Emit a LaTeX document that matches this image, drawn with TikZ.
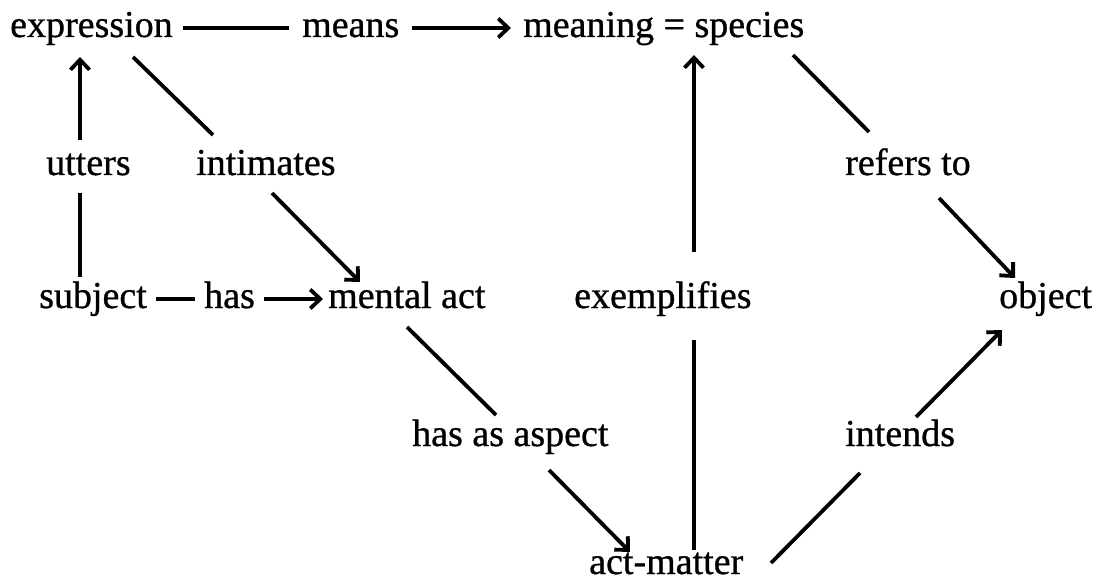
\documentclass[tikz,border=0pt]{standalone}
\usepackage{fontspec}
\setmainfont{Liberation Serif}[FakeBold=0.8]
\usetikzlibrary{arrows.meta,calc}
\begin{document}
\begin{tikzpicture}[x=1pt,y=-1pt,
  lbl/.style={anchor=base west,inner sep=0pt,font=\fontsize{38}{45}\selectfont},
  conn/.style={line width=3.8pt},
  arr/.style={conn,-{Straight Barb[length=10pt,width=19pt,line width=3.8pt]}}]
\useasboundingbox (0,0) rectangle (1098,583);
% row 1
\node[lbl] (expression) at (10,37) {expression};
\node[lbl] (means) at (302,37) {means};
\node[lbl] (meaning) at (523,37) {meaning = species};
% row 2
\node[lbl] (utters) at (46,175) {utters};
\node[lbl] (intimates) at (196,175) {intimates};
\node[lbl] (refers) at (845,175) {refers to};
% row 3
\node[lbl] (subject) at (39,308) {subject};
\node[lbl] (has) at (204,308) {has};
\node[lbl] (mental) at (328,308) {mental act};
\node[lbl] (exemplifies) at (574,308) {exemplifies};
\node[lbl] (object) at (999,308) {object};
% row 4
\node[lbl] (aspect) at (412,446) {has as aspect};
\node[lbl] (intends) at (845,446) {intends};
% row 5
\node[lbl] (actmatter) at (589,574) {act-matter};
% connectors
\draw[conn] ($(expression.base east)+(10,-9)$) -- ($(means.base west)+(-13,-9)$);
\draw[arr] ($(means.base east)+(13,-9)$) -- ($(meaning.base west)+(-12,-9)$);
\draw[arr] ($(utters.base west)+(34,-35)$) -- ($(expression.base west)+(70,20)$);
\draw[conn] ($(subject.base west)+(41,-31)$) -- ($(utters.base west)+(34,18)$);
\draw[conn] ($(expression.base west)+(123,20)$) -- ($(intimates.base west)+(17,-40)$);
\draw[arr] ($(intimates.base west)+(76,18)$) -- ($(mental.base west)+(32,-26)$);
\draw[conn] ($(subject.base east)+(9,-9)$) -- ($(has.base west)+(-9,-9)$);
\draw[arr] ($(has.base east)+(9,-9)$) -- ($(mental.base west)+(-5,-9)$);
\draw[conn] ($(mental.base west)+(79,19)$) -- ($(aspect.base west)+(84,-31)$);
\draw[arr] ($(aspect.base west)+(137,24)$) -- ($(actmatter.base west)+(41,-22)$);
\draw[conn] ($(actmatter.base west)+(105,-24)$) -- ($(exemplifies.base west)+(120,32)$);
\draw[arr] ($(exemplifies.base west)+(120,-56)$) -- ($(meaning.base west)+(171,18)$);
\draw[conn] ($(meaning.base west)+(270,18)$) -- ($(refers.base west)+(24,-43)$);
\draw[arr] ($(refers.base west)+(94,23)$) -- ($(object.base west)+(16,-30)$);
\draw[conn] ($(actmatter.base west)+(182,-11)$) -- ($(intends.base west)+(15,27)$);
\draw[arr] ($(intends.base west)+(71,-29)$) -- ($(object.base west)+(3,22)$);
\end{tikzpicture}
\end{document}
